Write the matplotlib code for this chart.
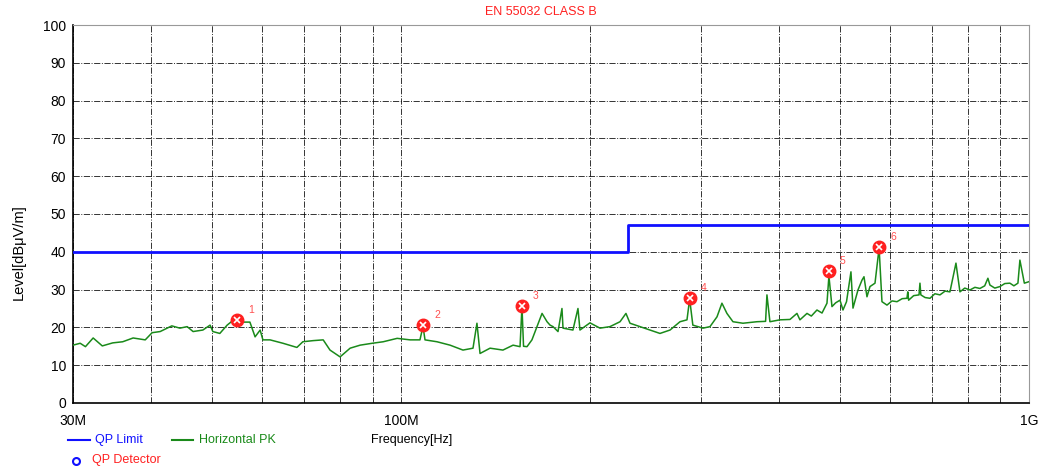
import numpy as np
import matplotlib
matplotlib.use('Agg')
import matplotlib.pyplot as plt
from matplotlib.lines import Line2D
from matplotlib import font_manager

plt.rcParams['font.family'] = ['Liberation Sans', 'DejaVu Sans']

# narrow face for the legend texts if it is there
names = set(f.name for f in font_manager.fontManager.ttflist)
if 'Liberation Sans Narrow' in names:
    leg_font, leg_size = ['Liberation Sans Narrow', 'DejaVu Sans'], 10
else:
    leg_font, leg_size = ['Liberation Sans', 'DejaVu Sans'], 9

# QP limit (EN 55032 class B, 3 m)
limit_freq = [30, 230, 230, 1000]
limit_level = [40, 40, 47, 47]

# Horizontal PK trace, MHz / dBuV/m
trace_freq = [30.0, 30.8, 31.4, 32.3, 33.4, 34.7, 36.0, 37.4, 39.1, 40.1,
              41.3, 43.1, 44.4, 45.6, 46.6, 48.3, 49.6, 50.1, 51.4, 52.8,
              53.9, 54.7, 56.0, 57.4, 58.5, 59.6, 60.2, 61.8, 64.8, 68.2,
              69.7, 72.4, 75.1, 77.0, 79.9, 82.9, 86.0, 89.9, 93.6, 98.5,
              103.3, 107.1, 108.3, 109.1, 114.0, 119.6, 125.4, 130.1, 132.0, 133.5,
              138.5, 145.2, 150.7, 154.6, 155.7, 156.6, 158.6, 161.5, 164.5, 167.6,
              170.7, 172.6, 174.5, 177.7, 180.3, 181.0, 187.7, 191.2, 192.6, 199.8,
              207.3, 215.0, 223.1, 228.0, 231.4, 240.1, 249.0, 258.3, 268.0, 278.0,
              285.2, 288.0, 291.4, 302.4, 310.3, 318.4, 324.2, 330.2, 337.6, 350.2,
              368.6, 380.5, 382.4, 386.6, 401.1, 416.1, 426.9, 431.6, 442.9, 450.0,
              459.4, 468.0, 476.6, 480.0, 485.4, 492.0, 499.9, 505.4, 512.0, 520.4,
              524.3, 534.0, 541.9, 545.9, 551.9, 558.0, 568.4, 577.0, 583.1, 593.9,
              605.0, 616.1, 628.0, 639.1, 641.0, 643.0, 655.0, 668.0, 670.3, 672.5,
              683.0, 695.4, 708.0, 721.3, 735.0, 748.2, 764.9, 776.2, 790.0, 805.1,
              820.0, 835.2, 850.0, 860.0, 866.4, 882.0, 898.7, 915.0, 932.2, 946.0,
              960.1, 967.1, 983.0, 1000.0]
trace_level = [15.3, 15.8, 14.9, 17.2, 15.1, 15.9, 16.2, 17.2, 16.7, 18.6,
               18.9, 20.4, 19.8, 20.2, 18.9, 19.3, 20.6, 18.9, 18.4, 20.6,
               21.8, 21.9, 21.4, 21.4, 17.5, 19.3, 16.7, 16.7, 15.8, 14.7,
               16.2, 16.5, 16.7, 14.0, 12.2, 14.5, 15.3, 15.8, 16.2, 17.1,
               16.7, 16.7, 20.3, 16.7, 16.2, 15.3, 14.0, 14.5, 21.1, 13.1,
               14.5, 14.0, 15.3, 14.9, 25.5, 15.0, 14.9, 16.7, 20.2, 23.7,
               21.5, 20.6, 20.2, 18.9, 25.0, 19.8, 19.3, 25.0, 19.3, 21.2,
               19.8, 20.2, 21.5, 23.7, 21.1, 20.2, 19.3, 18.4, 19.3, 21.5,
               22.0, 27.5, 20.6, 19.8, 20.2, 22.8, 26.4, 23.7, 21.5, 21.1,
               21.5, 21.6, 28.6, 21.5, 22.0, 22.1, 23.7, 22.0, 23.7, 23.0,
               24.6, 23.8, 26.4, 33.6, 25.5, 26.5, 27.2, 24.6, 26.8, 34.7,
               25.1, 29.9, 32.5, 33.4, 28.1, 30.8, 31.7, 41.0, 26.8, 25.9,
               27.0, 26.8, 27.6, 27.7, 29.4, 27.2, 28.4, 28.6, 31.7, 28.6,
               27.9, 27.7, 28.9, 28.6, 29.6, 29.4, 37.0, 29.4, 30.4, 29.9,
               30.6, 30.3, 31.0, 33.0, 31.2, 30.4, 30.8, 31.6, 31.7, 31.0,
               31.7, 37.8, 31.7, 32.1]

# QP detector points
qp_freq = [54.7, 108.3, 155.7, 288.0, 480.0, 577.0]
qp_level = [22.0, 20.6, 25.7, 27.8, 34.9, 41.3]
qp_labels = ['1', '2', '3', '4', '5', '6']

fig = plt.figure(figsize=(10.43, 4.71), dpi=100)
ax = fig.add_axes([0.070, 0.1444, 0.9166, 0.8025])

ax.plot(trace_freq, trace_level, color='#1a8a1a', lw=1.1, zorder=3)
ax.plot(limit_freq, limit_level, color='#1010ff', lw=2, zorder=4)
ax.plot(qp_freq, qp_level, 'o', color='#ff2020', ms=9, zorder=5)
ax.plot(qp_freq, qp_level, 'x', color='white', ms=4, mew=1.2, zorder=6)
for f, l, t in zip(qp_freq, qp_level, qp_labels):
    ax.annotate(t, (f, l), xytext=(8, 5), textcoords='offset points',
                color='#ff5050', fontsize=7.5)

ax.set_xscale('log')
ax.set_xlim(30, 1000)
ax.set_ylim(0, 100)
ax.set_yticks(np.arange(0, 101, 10))
ax.set_xticks([30, 100, 1000])
ax.set_xticklabels(['30M', '100M', '1G'])
ax.set_xticks([40, 50, 60, 70, 80, 90, 200, 300, 400, 500, 600, 700, 800, 900], minor=True)
ax.xaxis.set_minor_formatter(plt.NullFormatter())
ax.tick_params(axis='both', which='both', length=0, labelsize=10)
ax.tick_params(axis='x', pad=8)
ax.tick_params(axis='y', pad=5)

ax.grid(True, which='both', axis='x', color='black', ls='-.', lw=0.7, alpha=0.8)
ax.grid(True, which='major', axis='y', color='black', ls='-.', lw=0.7, alpha=0.8)

for s in ['top', 'right']:
    ax.spines[s].set_color('#999999')
    ax.spines[s].set_linewidth(0.8)
for s in ['left', 'bottom']:
    ax.spines[s].set_color('black')
    ax.spines[s].set_linewidth(1.2)

ax.set_ylabel('Level[dBμV/m]', fontsize=10.5)
ax.yaxis.set_label_coords(-0.049, 0.40)

fig.text(541 / 1043, 1 - 12 / 471, 'EN 55032 CLASS B', color='#ff2020',
         fontsize=9, ha='center', va='center')
fig.text(412 / 1043, 1 - 440 / 471, 'Frequency[Hz]', fontsize=leg_size,
         family=leg_font, ha='center', va='center')

# legend drawn by hand below the axes
fig.add_artist(Line2D([68 / 1043, 90 / 1043], [1 - 440 / 471] * 2, color='#1010ff', lw=1.5))
fig.text(95 / 1043, 1 - 440 / 471, 'QP Limit', color='#1010ff', fontsize=leg_size,
         family=leg_font, va='center')
fig.add_artist(Line2D([172 / 1043, 193 / 1043], [1 - 440 / 471] * 2, color='#1a8a1a', lw=1.5))
fig.text(199 / 1043, 1 - 440 / 471, 'Horizontal PK', color='#1a8a1a', fontsize=leg_size,
         family=leg_font, va='center')
fig.add_artist(Line2D([76 / 1043], [1 - 461 / 471], marker='o', ms=5, mfc='none',
                      mec='#1010ff', mew=1.5))
fig.text(92 / 1043, 1 - 460 / 471, 'QP Detector', color='#ff2020', fontsize=leg_size,
         family=leg_font, va='center')

fig.savefig('out.png', dpi=100)
